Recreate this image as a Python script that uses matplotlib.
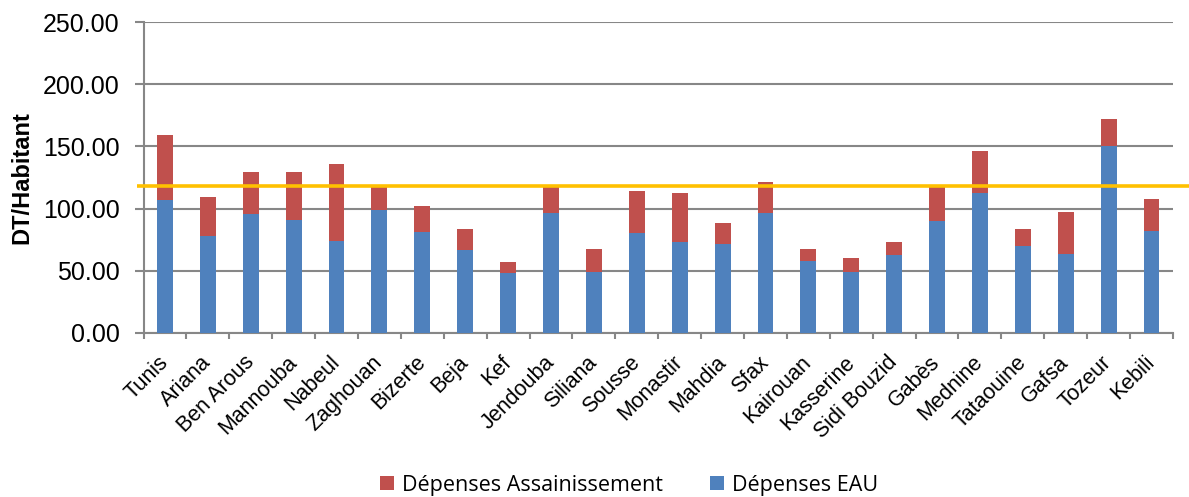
import matplotlib
matplotlib.use("Agg")
import matplotlib.pyplot as plt
import numpy as np

# Regional spending per inhabitant (DT)
regions = ["Tunis", "Ariana", "Ben Arous", "Mannouba", "Nabeul", "Zaghouan",
           "Bizerte", "Beja", "Kef", "Jendouba", "Siliana", "Sousse",
           "Monastir", "Mahdia", "Sfax", "Kairouan", "Kasserine",
           "Sidi Bouzid", "Gabès", "Mednine", "Tataouine", "Gafsa",
           "Tozeur", "Kebili"]
depenses_eau = [107.1, 78.2, 95.6, 90.5, 74.1, 98.8, 81.4, 66.9, 48.2, 96.6,
                49.3, 80.0, 72.8, 71.7, 96.6, 57.5, 49.3, 62.6, 89.7, 112.4,
                69.9, 63.7, 150.4, 82.2]
totals = [159.5, 109.7, 129.3, 129.3, 135.7, 117.5, 101.7, 84.0, 57.3, 117.5,
          67.7, 114.0, 112.2, 88.3, 121.3, 67.7, 60.5, 73.1, 117.5, 146.1,
          83.2, 97.4, 172.1, 107.9]
depenses_assain = [t - e for t, e in zip(totals, depenses_eau)]
moyenne = 117.8
y_ticks = [0, 50, 100, 150, 200, 250]

blue = "#4F81BD"
red = "#C0504D"
gold = "#FFC000"
grid_grey = "#878787"

fig = plt.figure(figsize=(11.89, 4.97), dpi=100)
ax = fig.add_axes([0.1207, 0.330, 0.8658, 0.6257])

x = np.arange(len(regions))
w = 0.37
ax.bar(x, depenses_eau, width=w, color=blue, label="Dépenses EAU", zorder=3)
ax.bar(x, depenses_assain, width=w, bottom=depenses_eau, color=red,
       label="Dépenses Assainissement", zorder=3)

# National average line, running past the plot area
ax.plot([-0.006, 1.016], [moyenne, moyenne], transform=ax.get_yaxis_transform(),
        color=gold, lw=2.6, clip_on=False, zorder=4, solid_capstyle="butt")

ax.set_xlim(-0.5, len(regions) - 0.5)
ax.set_ylim(0, 250)
ax.set_yticks(y_ticks)
ax.set_yticklabels([f"{v:.2f}" for v in y_ticks], fontsize=18,
                   family="Liberation Sans")
ax.yaxis.grid(True, color=grid_grey, lw=1.5, zorder=0)
ax.set_axisbelow(True)
ax.tick_params(axis="y", length=6.8, width=1.5, color=grid_grey, pad=10.5)

ax.set_xticks(x)
ax.set_xticklabels(regions, rotation=45, ha="right", va="center",
                   rotation_mode="anchor", fontsize=15.5, family="Liberation Sans")
ax.set_xticks(np.arange(-0.5, len(regions), 1.0), minor=True)
ax.tick_params(axis="x", which="major", length=0, pad=19)
ax.tick_params(axis="x", which="minor", length=4.5, width=1.5, color=grid_grey)

for side in ("top", "right"):
    ax.spines[side].set_visible(False)
for side in ("left", "bottom"):
    ax.spines[side].set_color(grid_grey)
    ax.spines[side].set_linewidth(1.5)

ax.set_ylabel("DT/Habitant", fontsize=17, fontweight="bold",
              family="Liberation Sans")
ax.yaxis.set_label_coords(-0.107, 0.5)

handles, labels = ax.get_legend_handles_labels()
fig.legend(handles[::-1], labels[::-1], loc="center", ncol=2,
           bbox_to_anchor=(0.529, 0.024), frameon=False,
           prop={"family": "Open Sans", "size": 15.5},
           handlelength=0.65, handleheight=0.65, handletextpad=0.35,
           columnspacing=2.2)

fig.savefig("out.png", dpi=100)
